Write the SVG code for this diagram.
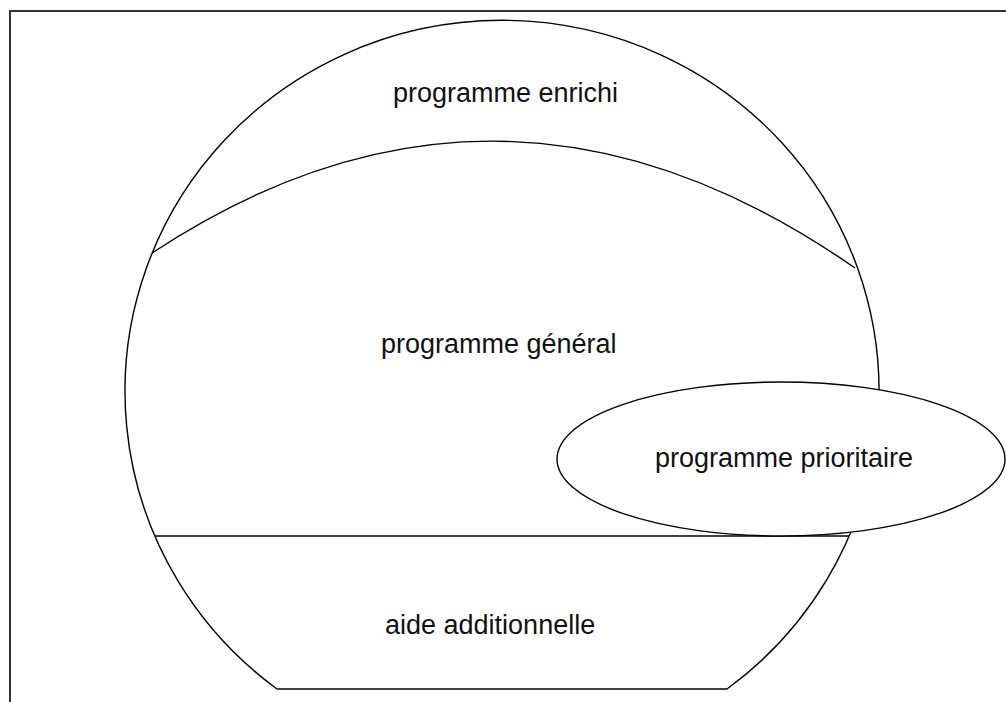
<svg xmlns="http://www.w3.org/2000/svg" width="1006" height="702" viewBox="0 0 1006 702">
  <style>
    .ln { stroke: #000; stroke-width: 1.4; }
    .open { fill: none; }
    .solid { fill: #fff; }
    .lbl { font-family: "Liberation Sans", Arial, sans-serif; font-size: 27px; fill: #111; }
  </style>
  <rect x="0" y="0" width="1006" height="702" fill="#fff"/>
  <g id="frame">
    <path d="M10,702 V11 H1006" fill="none" stroke="#333" stroke-width="2"/>
  </g>
  <g id="outline">
    <path class="ln solid" d="M277,689 A377 371 0 1 1 727,689 Z"/>
  </g>
  <g id="connectors">
    <path class="ln open" d="M152,253 Q 502,22 855,268"/>
    <path class="ln open" d="M155,536 H849"/>
  </g>
  <g id="node-enrichi">
    <text class="lbl" x="393" y="102">programme enrichi</text>
  </g>
  <g id="node-general">
    <text class="lbl" x="381" y="353">programme général</text>
  </g>
  <g id="node-aide">
    <text class="lbl" x="385" y="634">aide additionnelle</text>
  </g>
  <g id="node-prioritaire">
    <ellipse class="ln solid" cx="781" cy="459" rx="224" ry="77"/>
    <text class="lbl" x="655" y="467">programme prioritaire</text>
  </g>
</svg>
